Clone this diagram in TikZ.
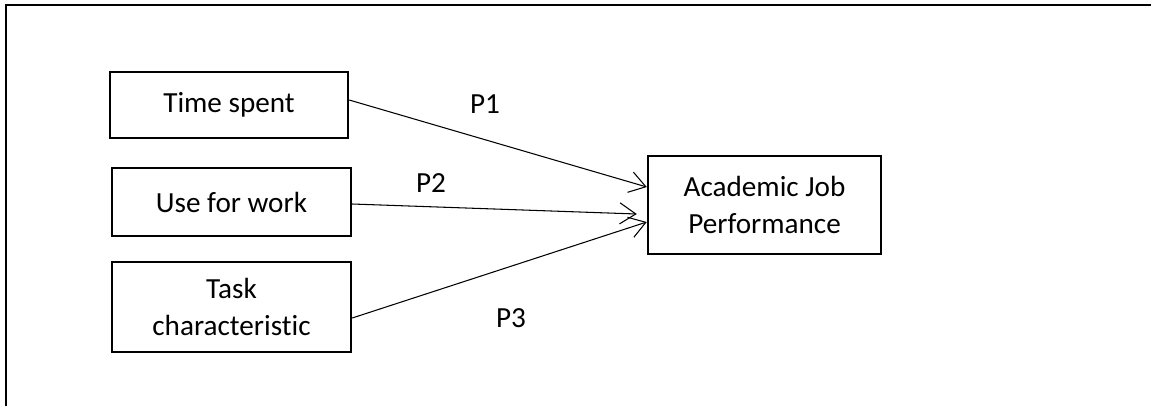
\documentclass[tikz,border=0pt]{standalone}
\usepackage{fontspec}
\setmainfont[Ligatures=NoCommon]{Carlito}
\usetikzlibrary{arrows.meta,positioning}

\begin{document}
\begin{tikzpicture}[
	box/.style={draw=black, line width=1.4pt, align=center, inner sep=0pt, font=\fontsize{16.6}{21.5}\selectfont},
	link/.style={arrows={-Straight Barb[length=0.32cm,width=0.42cm]}, line width=0.6pt},
	lab/.style={draw=none, fill=none, font=\fontsize{16.6}{20}\selectfont}]
	
	\useasboundingbox (0,0) rectangle (23.02,-8.1);
	\draw[black, line width=1.2pt] (0.12,-8.2)--(0.12,-0.1)--(23.2,-0.1);
	
	\node[box, minimum width=4.76cm, minimum height=1.32cm] (time) at (4.58,-2.10) {Time spent};
	\node[box, minimum width=4.78cm, minimum height=1.36cm] (work) at (4.63,-4.04) {Use for work};
	\node[box, minimum width=4.78cm, minimum height=1.80cm] (task) at (4.63,-6.14) {Task\\characteristic};
	\node[box, minimum width=4.66cm, minimum height=1.96cm] (ajp) at (15.29,-4.10) {Academic Job\\Performance};
	
	\coordinate (p2end) at ([xshift=-0.2cm, yshift=-0.18cm]ajp.west);
	
	\draw[link] ([yshift=0.1cm]time.east) -- ([yshift=0.36cm]ajp.west);
	\draw[link] ([yshift=-0.04cm]work.east) -- (p2end);
	\draw[link] ([yshift=-0.22cm]task.east) -- ([yshift=-0.34cm]ajp.west);
	
	\node[lab] (p1) at (9.70,-2.08) {P1};
	\node[lab] (p2) at (8.62,-3.66) {P2};
	\node[lab] (p3) at (10.22,-6.36) {P3};
	
\end{tikzpicture}
\end{document}
